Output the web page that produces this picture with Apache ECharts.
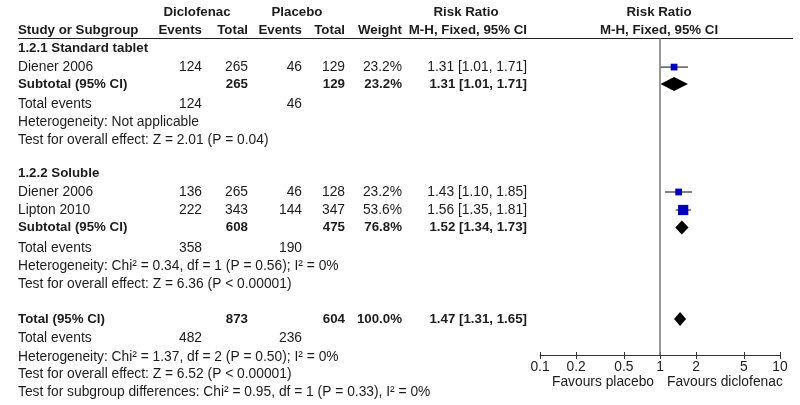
<!DOCTYPE html>
<html>
<head>
<meta charset="utf-8">
<title>Diclofenac vs placebo</title>
<script src="https://cdn.jsdelivr.net/npm/echarts@6/dist/echarts.min.js"></script>
<style>
html, body { margin: 0; padding: 0; background: #fff; }
#main { width: 800px; height: 405px; }
</style>
</head>
<body>
<div id="main"></div>
<script>
/**
 * data
 */
var studyNames = ['Diener 2006', 'Diener 2006', 'Lipton 2010'];
var dicEvents = [124, 136, 222];
var dicTotal = [265, 265, 343];
var plaEvents = [46, 46, 144];
var plaTotal = [129, 128, 347];
var weights = [23.2, 23.2, 53.6];
var riskRatio = [1.31, 1.43, 1.56];
var ciLow = [1.01, 1.10, 1.35];
var ciHigh = [1.71, 1.85, 1.81];

// subgroups
var groupNames = ['1.2.1 Standard tablet', '1.2.2 Soluble'];
var subDicEvents = [124, 358];
var subDicTotal = [265, 608];
var subPlaEvents = [46, 190];
var subPlaTotal = [129, 475];
var subWeights = [23.2, 76.8];
var subRR = [1.31, 1.52];
var subLow = [1.01, 1.34];
var subHigh = [1.71, 1.73];
var subHet = ['Heterogeneity: Not applicable', 'Heterogeneity: Chi\u00b2 = 0.34, df = 1 (P = 0.56); I\u00b2 = 0%'];
var subEffect = ['Test for overall effect: Z = 2.01 (P = 0.04)', 'Test for overall effect: Z = 6.36 (P < 0.00001)'];

// overall
var totalCounts = [482, 873, 236, 604]; // dic events, dic total, placebo events, placebo total
var totalWeight = [100.0];
var totalRR = [1.47, 1.31, 1.65];
var totalNotes = [
	'Heterogeneity: Chi\u00b2 = 1.37, df = 2 (P = 0.50); I\u00b2 = 0%',
	'Test for overall effect: Z = 6.52 (P < 0.00001)',
	'Test for subgroup differences: Chi\u00b2 = 0.95, df = 1 (P = 0.33), I\u00b2 = 0%'
];

var tickValues = [0.1, 0.2, 0.5, 1, 2, 5, 10];

/**
 * layout: line number of each row (y axis unit) and column edges in px
 */
var studyLine = [3.06, 10, 11];
var titleLine = [2, 8.94];
var subLine = [4, 11.97];
var eventsLine = [5.11, 13.11];
var hetLine = [6.11, 14.11];
var effectLine = [7.11, 15.11];
var totalLines = [17.06, 18.14, 19.17, 20.14, 21.14];
var favoursLine = 20.58;
var col = { name: 18, dicE: 202, dicT: 248, plaE: 302, plaT: 345, weight: 402, ci: 527 };

var FONT = '13.8px "Liberation Sans", Arial, sans-serif';
var BOLD = 'bold 13.3px "Liberation Sans", Arial, sans-serif';
var TEXT_COLOR = '#1c1c1c';

function fmtCI(rr, lo, hi) {
	return rr.toFixed(2) + ' [' + lo.toFixed(2) + ', ' + hi.toFixed(2) + ']';
}
function fmtW(w) {
	return w.toFixed(1) + '%';
}

// build the table rows
var tableRows = [];
tableRows.push({ line: 0, bold: true, cells: [
	['Diclofenac', 197, 'center'], ['Placebo', 297, 'center'],
	['Risk Ratio', 466, 'center'], ['Risk Ratio', 659, 'center']] });
tableRows.push({ line: 1, bold: true, cells: [
	['Study or Subgroup', col.name, 'left'], ['Events', col.dicE, 'right'], ['Total', col.dicT, 'right'],
	['Events', col.plaE, 'right'], ['Total', col.plaT, 'right'], ['Weight', col.weight, 'right'],
	['M-H, Fixed, 95% CI', col.ci, 'right'], ['M-H, Fixed, 95% CI', 659, 'center']] });

for (var g = 0; g < groupNames.length; g++) {
	tableRows.push({ line: titleLine[g], bold: true, cells: [[groupNames[g], col.name, 'left']] });
	for (var i = 0; i < studyNames.length; i++) {
		if ((g == 0 && i != 0) || (g == 1 && i == 0)) continue;
		tableRows.push({ line: studyLine[i], bold: false, cells: [
			[studyNames[i], col.name, 'left'], [String(dicEvents[i]), col.dicE, 'right'],
			[String(dicTotal[i]), col.dicT, 'right'], [String(plaEvents[i]), col.plaE, 'right'],
			[String(plaTotal[i]), col.plaT, 'right'], [fmtW(weights[i]), col.weight, 'right'],
			[fmtCI(riskRatio[i], ciLow[i], ciHigh[i]), col.ci, 'right']] });
	}
	tableRows.push({ line: subLine[g], bold: true, cells: [
		['Subtotal (95% CI)', col.name, 'left'], [String(subDicTotal[g]), col.dicT, 'right'],
		[String(subPlaTotal[g]), col.plaT, 'right'], [fmtW(subWeights[g]), col.weight, 'right'],
		[fmtCI(subRR[g], subLow[g], subHigh[g]), col.ci, 'right']] });
	tableRows.push({ line: eventsLine[g], bold: false, cells: [
		['Total events', col.name, 'left'], [String(subDicEvents[g]), col.dicE, 'right'],
		[String(subPlaEvents[g]), col.plaE, 'right']] });
	tableRows.push({ line: hetLine[g], bold: false, cells: [[subHet[g], col.name, 'left']] });
	tableRows.push({ line: effectLine[g], bold: false, cells: [[subEffect[g], col.name, 'left']] });
}
tableRows.push({ line: totalLines[0], bold: true, cells: [
	['Total (95% CI)', col.name, 'left'], [String(totalCounts[1]), col.dicT, 'right'],
	[String(totalCounts[3]), col.plaT, 'right'], [fmtW(totalWeight[0]), col.weight, 'right'],
	[fmtCI(totalRR[0], totalRR[1], totalRR[2]), col.ci, 'right']] });
tableRows.push({ line: totalLines[1], bold: false, cells: [
	['Total events', col.name, 'left'], [String(totalCounts[0]), col.dicE, 'right'],
	[String(totalCounts[2]), col.plaE, 'right']] });
for (var n = 0; n < totalNotes.length; n++) {
	tableRows.push({ line: totalLines[n + 2], bold: false, cells: [[totalNotes[n], col.name, 'left']] });
}

// squares + whiskers, diamonds
var studyData = [];
for (var k = 0; k < studyNames.length; k++) {
	studyData.push([riskRatio[k], studyLine[k], ciLow[k], ciHigh[k], weights[k]]);
}
var diamondData = [
	[subRR[0], subLine[0], subLow[0], subHigh[0]],
	[subRR[1], subLine[1], subLow[1], subHigh[1]],
	[totalRR[0], totalLines[0], totalRR[1], totalRR[2]]
];

function renderTable(params, api) {
	var row = tableRows[params.dataIndex];
	var y = api.coord([1, api.value(1)])[1];
	var children = [];
	for (var c = 0; c < row.cells.length; c++) {
		var cell = row.cells[c];
		children.push({
			type: 'text', x: cell[1], y: y,
			style: { text: cell[0], align: cell[2], verticalAlign: 'middle', font: row.bold ? BOLD : FONT, fill: TEXT_COLOR }
		});
	}
	return { type: 'group', children: children };
}

function renderStudy(params, api) {
	var p = api.coord([api.value(0), api.value(1)]);
	var lo = api.coord([api.value(2), api.value(1)]);
	var hi = api.coord([api.value(3), api.value(1)]);
	var s = 1.4 * Math.sqrt(api.value(4));
	return {
		type: 'group',
		children: [
			{ type: 'line', shape: { x1: lo[0], y1: p[1], x2: hi[0], y2: p[1] }, style: { stroke: '#2e2e3e', lineWidth: 1.2 } },
			{ type: 'rect', shape: { x: p[0] - s / 2, y: p[1] - s / 2, width: s, height: s }, style: { fill: '#0000c4' } }
		]
	};
}

function renderDiamond(params, api) {
	var p = api.coord([api.value(0), api.value(1)]);
	var lo = api.coord([api.value(2), api.value(1)]);
	var hi = api.coord([api.value(3), api.value(1)]);
	var h = 7;
	return {
		type: 'polygon',
		shape: { points: [[lo[0], p[1]], [p[0], p[1] - h], [hi[0], p[1]], [p[0], p[1] + h]] },
		style: { fill: '#000' }
	};
}

function renderFavours(params, api) {
	var p = api.coord([1, api.value(1)]);
	return {
		type: 'group',
		children: [
			{ type: 'text', x: p[0] - 6, y: p[1], style: { text: 'Favours placebo', align: 'right', verticalAlign: 'middle', font: FONT, fill: TEXT_COLOR } },
			{ type: 'text', x: p[0] + 7, y: p[1], style: { text: 'Favours diclofenac', align: 'left', verticalAlign: 'middle', font: FONT, fill: TEXT_COLOR } }
		]
	};
}

var myChart = echarts.init(document.getElementById('main'));
myChart.setOption({
	animation: false,
	backgroundColor: '#fff',
	grid: { left: 540, right: 20, top: 38, bottom: 50 },
	xAxis: [{
		type: 'log', logBase: 10, min: 0.1, max: 10,
		axisLine: { lineStyle: { color: '#333', width: 1 } },
		axisTick: { show: true, customValues: tickValues, length: 4, lineStyle: { color: '#333' } },
		axisLabel: {
			customValues: tickValues, margin: 5, color: TEXT_COLOR, fontSize: 13.8,
			fontFamily: '"Liberation Sans", Arial, sans-serif',
			formatter: function (v) { return String(Number((+v).toPrecision(3))); }
		},
		splitLine: { show: false },
		minorTick: { show: false }
	}, {
		type: 'log', logBase: 10, min: 0.1, max: 10, position: 'bottom',
		axisLine: { show: false },
		axisTick: { show: true, inside: true, customValues: tickValues, length: 3, lineStyle: { color: '#333' } },
		axisLabel: { show: false },
		splitLine: { show: false }
	}],
	yAxis: {
		type: 'value', inverse: true, min: 26 / 18, max: 343 / 18, show: false
	},
	graphic: [{
		type: 'line', shape: { x1: 18, y1: 38.5, x2: 793, y2: 38.5 },
		style: { stroke: '#222', lineWidth: 1.2 }
	}],
	series: [{
		type: 'custom', name: 'table', clip: false, silent: true,
		renderItem: renderTable,
		data: tableRows.map(function (r) { return [1, r.line]; })
	}, {
		type: 'custom', name: 'studies', clip: false, silent: true,
		renderItem: renderStudy,
		data: studyData,
		markLine: {
			silent: true, symbol: ['none', 'none'], label: { show: false },
			lineStyle: { color: '#777', width: 1.5, type: 'solid' },
			data: [{ xAxis: 1 }]
		}
	}, {
		type: 'custom', name: 'pooled', clip: false, silent: true,
		renderItem: renderDiamond,
		data: diamondData
	}, {
		type: 'custom', name: 'favours', clip: false, silent: true,
		renderItem: renderFavours,
		data: [[1, favoursLine]]
	}]
});
</script>
</body>
</html>
